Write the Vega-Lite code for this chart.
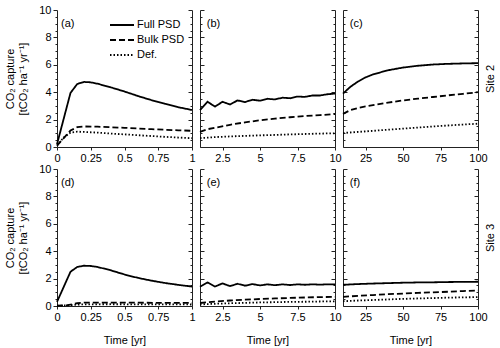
{
  "$schema": "https://vega.github.io/schema/vega-lite/v6.json",
  "padding": {"left": 4, "top": 4, "right": 2, "bottom": 2},
  "datasets": {
    "curves": [
      {"p":"a","s":"Full PSD","t":0,"v":0.2},{"p":"a","s":"Full PSD","t":0.1,"v":3.95},{"p":"a","s":"Full PSD","t":0.15,"v":4.6},{"p":"a","s":"Full PSD","t":0.2,"v":4.75},{"p":"a","s":"Full PSD","t":0.25,"v":4.72},{"p":"a","s":"Full PSD","t":0.3,"v":4.62},{"p":"a","s":"Full PSD","t":0.4,"v":4.35},{"p":"a","s":"Full PSD","t":0.5,"v":4.05},{"p":"a","s":"Full PSD","t":0.6,"v":3.72},{"p":"a","s":"Full PSD","t":0.7,"v":3.42},{"p":"a","s":"Full PSD","t":0.8,"v":3.15},{"p":"a","s":"Full PSD","t":0.9,"v":2.9},{"p":"a","s":"Full PSD","t":1,"v":2.7},
      {"p":"a","s":"Bulk PSD","t":0,"v":0.1},{"p":"a","s":"Bulk PSD","t":0.05,"v":0.65},{"p":"a","s":"Bulk PSD","t":0.1,"v":1.2},{"p":"a","s":"Bulk PSD","t":0.15,"v":1.45},{"p":"a","s":"Bulk PSD","t":0.2,"v":1.5},{"p":"a","s":"Bulk PSD","t":0.3,"v":1.48},{"p":"a","s":"Bulk PSD","t":0.4,"v":1.44},{"p":"a","s":"Bulk PSD","t":0.5,"v":1.4},{"p":"a","s":"Bulk PSD","t":0.6,"v":1.35},{"p":"a","s":"Bulk PSD","t":0.7,"v":1.3},{"p":"a","s":"Bulk PSD","t":0.8,"v":1.26},{"p":"a","s":"Bulk PSD","t":0.9,"v":1.22},{"p":"a","s":"Bulk PSD","t":1,"v":1.18},
      {"p":"a","s":"Def.","t":0,"v":0.1},{"p":"a","s":"Def.","t":0.05,"v":0.7},{"p":"a","s":"Def.","t":0.1,"v":1.05},{"p":"a","s":"Def.","t":0.15,"v":1.12},{"p":"a","s":"Def.","t":0.2,"v":1.1},{"p":"a","s":"Def.","t":0.3,"v":1.05},{"p":"a","s":"Def.","t":0.4,"v":0.98},{"p":"a","s":"Def.","t":0.5,"v":0.92},{"p":"a","s":"Def.","t":0.6,"v":0.86},{"p":"a","s":"Def.","t":0.7,"v":0.8},{"p":"a","s":"Def.","t":0.8,"v":0.74},{"p":"a","s":"Def.","t":0.9,"v":0.69},{"p":"a","s":"Def.","t":1,"v":0.64},

      {"p":"b","s":"Full PSD","t":1,"v":2.7},{"p":"b","s":"Full PSD","t":1.5,"v":3.3},{"p":"b","s":"Full PSD","t":2,"v":2.95},{"p":"b","s":"Full PSD","t":2.5,"v":3.3},{"p":"b","s":"Full PSD","t":3,"v":3.1},{"p":"b","s":"Full PSD","t":3.5,"v":3.4},{"p":"b","s":"Full PSD","t":4,"v":3.28},{"p":"b","s":"Full PSD","t":4.5,"v":3.45},{"p":"b","s":"Full PSD","t":5,"v":3.38},{"p":"b","s":"Full PSD","t":5.5,"v":3.52},{"p":"b","s":"Full PSD","t":6,"v":3.47},{"p":"b","s":"Full PSD","t":6.5,"v":3.6},{"p":"b","s":"Full PSD","t":7,"v":3.56},{"p":"b","s":"Full PSD","t":7.5,"v":3.68},{"p":"b","s":"Full PSD","t":8,"v":3.66},{"p":"b","s":"Full PSD","t":8.5,"v":3.76},{"p":"b","s":"Full PSD","t":9,"v":3.76},{"p":"b","s":"Full PSD","t":9.5,"v":3.85},{"p":"b","s":"Full PSD","t":10,"v":3.9},
      {"p":"b","s":"Bulk PSD","t":1,"v":1.1},{"p":"b","s":"Bulk PSD","t":1.5,"v":1.3},{"p":"b","s":"Bulk PSD","t":2,"v":1.4},{"p":"b","s":"Bulk PSD","t":3,"v":1.62},{"p":"b","s":"Bulk PSD","t":4,"v":1.8},{"p":"b","s":"Bulk PSD","t":5,"v":1.95},{"p":"b","s":"Bulk PSD","t":6,"v":2.07},{"p":"b","s":"Bulk PSD","t":7,"v":2.17},{"p":"b","s":"Bulk PSD","t":8,"v":2.26},{"p":"b","s":"Bulk PSD","t":9,"v":2.33},{"p":"b","s":"Bulk PSD","t":10,"v":2.4},
      {"p":"b","s":"Def.","t":1,"v":0.65},{"p":"b","s":"Def.","t":2,"v":0.72},{"p":"b","s":"Def.","t":3,"v":0.77},{"p":"b","s":"Def.","t":4,"v":0.81},{"p":"b","s":"Def.","t":5,"v":0.85},{"p":"b","s":"Def.","t":6,"v":0.88},{"p":"b","s":"Def.","t":7,"v":0.92},{"p":"b","s":"Def.","t":8,"v":0.95},{"p":"b","s":"Def.","t":9,"v":0.98},{"p":"b","s":"Def.","t":10,"v":1.0},

      {"p":"c","s":"Full PSD","t":10,"v":3.9},{"p":"c","s":"Full PSD","t":15,"v":4.4},{"p":"c","s":"Full PSD","t":20,"v":4.78},{"p":"c","s":"Full PSD","t":25,"v":5.08},{"p":"c","s":"Full PSD","t":30,"v":5.3},{"p":"c","s":"Full PSD","t":40,"v":5.6},{"p":"c","s":"Full PSD","t":50,"v":5.8},{"p":"c","s":"Full PSD","t":60,"v":5.93},{"p":"c","s":"Full PSD","t":70,"v":6.02},{"p":"c","s":"Full PSD","t":80,"v":6.07},{"p":"c","s":"Full PSD","t":90,"v":6.1},{"p":"c","s":"Full PSD","t":100,"v":6.12},
      {"p":"c","s":"Bulk PSD","t":10,"v":2.42},{"p":"c","s":"Bulk PSD","t":15,"v":2.7},{"p":"c","s":"Bulk PSD","t":20,"v":2.85},{"p":"c","s":"Bulk PSD","t":25,"v":2.97},{"p":"c","s":"Bulk PSD","t":30,"v":3.06},{"p":"c","s":"Bulk PSD","t":40,"v":3.24},{"p":"c","s":"Bulk PSD","t":50,"v":3.4},{"p":"c","s":"Bulk PSD","t":60,"v":3.53},{"p":"c","s":"Bulk PSD","t":70,"v":3.65},{"p":"c","s":"Bulk PSD","t":80,"v":3.77},{"p":"c","s":"Bulk PSD","t":90,"v":3.88},{"p":"c","s":"Bulk PSD","t":100,"v":4.0},
      {"p":"c","s":"Def.","t":10,"v":1.02},{"p":"c","s":"Def.","t":20,"v":1.1},{"p":"c","s":"Def.","t":30,"v":1.18},{"p":"c","s":"Def.","t":40,"v":1.26},{"p":"c","s":"Def.","t":50,"v":1.34},{"p":"c","s":"Def.","t":60,"v":1.42},{"p":"c","s":"Def.","t":70,"v":1.5},{"p":"c","s":"Def.","t":80,"v":1.57},{"p":"c","s":"Def.","t":90,"v":1.64},{"p":"c","s":"Def.","t":100,"v":1.7},

      {"p":"d","s":"Full PSD","t":0,"v":0.3},{"p":"d","s":"Full PSD","t":0.1,"v":2.5},{"p":"d","s":"Full PSD","t":0.15,"v":2.85},{"p":"d","s":"Full PSD","t":0.2,"v":2.94},{"p":"d","s":"Full PSD","t":0.25,"v":2.92},{"p":"d","s":"Full PSD","t":0.3,"v":2.85},{"p":"d","s":"Full PSD","t":0.4,"v":2.6},{"p":"d","s":"Full PSD","t":0.5,"v":2.3},{"p":"d","s":"Full PSD","t":0.6,"v":2.05},{"p":"d","s":"Full PSD","t":0.7,"v":1.85},{"p":"d","s":"Full PSD","t":0.8,"v":1.68},{"p":"d","s":"Full PSD","t":0.9,"v":1.54},{"p":"d","s":"Full PSD","t":1,"v":1.42},
      {"p":"d","s":"Bulk PSD","t":0,"v":0.02},{"p":"d","s":"Bulk PSD","t":0.07,"v":0.05},{"p":"d","s":"Bulk PSD","t":0.15,"v":0.2},{"p":"d","s":"Bulk PSD","t":0.2,"v":0.24},{"p":"d","s":"Bulk PSD","t":0.4,"v":0.25},{"p":"d","s":"Bulk PSD","t":0.6,"v":0.24},{"p":"d","s":"Bulk PSD","t":0.8,"v":0.23},{"p":"d","s":"Bulk PSD","t":1,"v":0.22},
      {"p":"d","s":"Def.","t":0,"v":0.02},{"p":"d","s":"Def.","t":0.07,"v":0.04},{"p":"d","s":"Def.","t":0.15,"v":0.1},{"p":"d","s":"Def.","t":0.2,"v":0.12},{"p":"d","s":"Def.","t":0.4,"v":0.13},{"p":"d","s":"Def.","t":0.6,"v":0.12},{"p":"d","s":"Def.","t":0.8,"v":0.12},{"p":"d","s":"Def.","t":1,"v":0.11},

      {"p":"e","s":"Full PSD","t":1,"v":1.4},{"p":"e","s":"Full PSD","t":1.5,"v":1.72},{"p":"e","s":"Full PSD","t":2,"v":1.42},{"p":"e","s":"Full PSD","t":2.5,"v":1.65},{"p":"e","s":"Full PSD","t":3,"v":1.45},{"p":"e","s":"Full PSD","t":3.5,"v":1.62},{"p":"e","s":"Full PSD","t":4,"v":1.48},{"p":"e","s":"Full PSD","t":4.5,"v":1.6},{"p":"e","s":"Full PSD","t":5,"v":1.5},{"p":"e","s":"Full PSD","t":5.5,"v":1.58},{"p":"e","s":"Full PSD","t":6,"v":1.52},{"p":"e","s":"Full PSD","t":6.5,"v":1.58},{"p":"e","s":"Full PSD","t":7,"v":1.53},{"p":"e","s":"Full PSD","t":7.5,"v":1.58},{"p":"e","s":"Full PSD","t":8,"v":1.55},{"p":"e","s":"Full PSD","t":8.5,"v":1.58},{"p":"e","s":"Full PSD","t":9,"v":1.56},{"p":"e","s":"Full PSD","t":9.5,"v":1.58},{"p":"e","s":"Full PSD","t":10,"v":1.57},
      {"p":"e","s":"Bulk PSD","t":1,"v":0.22},{"p":"e","s":"Bulk PSD","t":2,"v":0.32},{"p":"e","s":"Bulk PSD","t":3,"v":0.4},{"p":"e","s":"Bulk PSD","t":4,"v":0.46},{"p":"e","s":"Bulk PSD","t":5,"v":0.51},{"p":"e","s":"Bulk PSD","t":6,"v":0.55},{"p":"e","s":"Bulk PSD","t":7,"v":0.59},{"p":"e","s":"Bulk PSD","t":8,"v":0.62},{"p":"e","s":"Bulk PSD","t":9,"v":0.65},{"p":"e","s":"Bulk PSD","t":10,"v":0.67},
      {"p":"e","s":"Def.","t":1,"v":0.12},{"p":"e","s":"Def.","t":2,"v":0.16},{"p":"e","s":"Def.","t":3,"v":0.2},{"p":"e","s":"Def.","t":4,"v":0.23},{"p":"e","s":"Def.","t":5,"v":0.26},{"p":"e","s":"Def.","t":6,"v":0.28},{"p":"e","s":"Def.","t":7,"v":0.3},{"p":"e","s":"Def.","t":8,"v":0.31},{"p":"e","s":"Def.","t":9,"v":0.33},{"p":"e","s":"Def.","t":10,"v":0.34},

      {"p":"f","s":"Full PSD","t":10,"v":1.55},{"p":"f","s":"Full PSD","t":20,"v":1.6},{"p":"f","s":"Full PSD","t":30,"v":1.64},{"p":"f","s":"Full PSD","t":40,"v":1.67},{"p":"f","s":"Full PSD","t":50,"v":1.7},{"p":"f","s":"Full PSD","t":60,"v":1.72},{"p":"f","s":"Full PSD","t":70,"v":1.73},{"p":"f","s":"Full PSD","t":80,"v":1.75},{"p":"f","s":"Full PSD","t":90,"v":1.76},{"p":"f","s":"Full PSD","t":100,"v":1.77},
      {"p":"f","s":"Bulk PSD","t":10,"v":0.67},{"p":"f","s":"Bulk PSD","t":20,"v":0.74},{"p":"f","s":"Bulk PSD","t":30,"v":0.8},{"p":"f","s":"Bulk PSD","t":40,"v":0.86},{"p":"f","s":"Bulk PSD","t":50,"v":0.91},{"p":"f","s":"Bulk PSD","t":60,"v":0.96},{"p":"f","s":"Bulk PSD","t":70,"v":1.0},{"p":"f","s":"Bulk PSD","t":80,"v":1.04},{"p":"f","s":"Bulk PSD","t":90,"v":1.09},{"p":"f","s":"Bulk PSD","t":100,"v":1.13},
      {"p":"f","s":"Def.","t":10,"v":0.35},{"p":"f","s":"Def.","t":20,"v":0.4},{"p":"f","s":"Def.","t":30,"v":0.44},{"p":"f","s":"Def.","t":40,"v":0.48},{"p":"f","s":"Def.","t":50,"v":0.52},{"p":"f","s":"Def.","t":60,"v":0.55},{"p":"f","s":"Def.","t":70,"v":0.58},{"p":"f","s":"Def.","t":80,"v":0.61},{"p":"f","s":"Def.","t":90,"v":0.63},{"p":"f","s":"Def.","t":100,"v":0.65}
    ]
  },
  "config": {
    "view": {"stroke": null},
    "font": "Liberation Sans",
    "axis": {"grid": false, "domainColor": "#222", "tickColor": "#222", "labelColor": "black", "titleColor": "black", "labelFont": "Liberation Sans", "titleFont": "Liberation Sans", "labelFontSize": 11, "titleFontSize": 11, "titleFontWeight": "normal", "labelFlush": false, "labelOverlap": false, "labelBound": false},
    "axisX": {"titleFontWeight": "normal", "labelOverlap": false},
    "legend": {"labelFont": "Liberation Sans", "labelFontSize": 11, "labelColor": "black"}
  },
  "resolve": {"scale": {"strokeDash": "independent"}},
  "spacing": 0,
  "vconcat": [
    {
      "hconcat": [
        {
          "width": 135, "height": 137,
          "layer": [
            {"data": {"name": "curves"}, "transform": [{"filter": "datum.p === 'a'"}],
             "mark": {"type": "line", "color": "black", "strokeWidth": 1.8},
             "encoding": {
               "x": {"field": "t", "type": "quantitative", "scale": {"domain": [0, 1], "nice": false}, "axis": {"values": [0, 0.25, 0.5, 0.75, 1], "tickCount": 5, "labelExpr": "'' + datum.value", "labelOverlap": false, "title": null, "tickSize": 3}},
               "y": {"field": "v", "type": "quantitative", "scale": {"domain": [0, 10], "nice": false}, "axis": {"values": [0,0.5,1,1.5,2,2.5,3,3.5,4,4.5,5,5.5,6,6.5,7,7.5,8,8.5,9,9.5,10], "tickCount": 21, "labelExpr": "datum.value % 2 === 0 ? '' + datum.value : ''", "tickSize": {"condition": {"test": "datum.value % 2 === 0", "value": 4}, "value": 2}, "labelPadding": 2, "title": ["CO₂ capture", "[tCO₂ ha⁻¹ yr⁻¹]"], "titlePadding": 10}},
               "strokeDash": {"field": "s", "type": "nominal", "scale": {"domain": ["Full PSD", "Bulk PSD", "Def."], "range": [[1, 0], [6, 3], [1.5, 2]]},
                 "legend": {"title": null, "orient": "none", "legendX": 58, "legendY": 8, "padding": 0, "symbolType": "M-2,0H2", "symbolSize": 144, "symbolStrokeWidth": 1.8, "symbolStrokeColor": "black", "symbolFillColor": "transparent", "labelOffset": 8, "rowPadding": 3}}
             }},
            {"data": {"values": [{"t": 0.03, "v": 9.0, "label": "(a)"}]},
             "mark": {"type": "text", "align": "left", "baseline": "middle", "fontSize": 11},
             "encoding": {"x": {"field": "t", "type": "quantitative"}, "y": {"field": "v", "type": "quantitative", "axis": {"orient": "right", "values": [0,0.5,1,1.5,2,2.5,3,3.5,4,4.5,5,5.5,6,6.5,7,7.5,8,8.5,9,9.5,10], "tickCount": 21, "labels": false, "title": null, "tickSize": {"condition": {"test": "datum.value % 2 === 0", "value": -4}, "value": -2}}}, "text": {"field": "label"}}}
          ],
          "resolve": {"axis": {"y": "independent"}}
        },
        {
          "width": 135, "height": 137,
          "layer": [
            {"data": {"name": "curves"}, "transform": [{"filter": "datum.p === 'b'"}],
             "mark": {"type": "line", "color": "black", "strokeWidth": 1.8},
             "encoding": {
               "x": {"field": "t", "type": "quantitative", "scale": {"domain": [1, 10], "nice": false, "zero": false}, "axis": {"values": [2.5, 5, 7.5, 10], "tickCount": 5, "labelExpr": "'' + datum.value", "labelOverlap": false, "title": null, "tickSize": 3}},
               "y": {"field": "v", "type": "quantitative", "scale": {"domain": [0, 10], "nice": false}, "axis": {"values": [0,0.5,1,1.5,2,2.5,3,3.5,4,4.5,5,5.5,6,6.5,7,7.5,8,8.5,9,9.5,10], "tickCount": 21, "labels": false, "title": null, "tickSize": {"condition": {"test": "datum.value % 2 === 0", "value": -4}, "value": -2}}},
               "strokeDash": {"field": "s", "type": "nominal", "scale": {"domain": ["Full PSD", "Bulk PSD", "Def."], "range": [[1, 0], [6, 3], [1.5, 2]]}, "legend": null}
             }},
            {"data": {"values": [{"t": 1.45, "v": 9.0, "label": "(b)"}]},
             "mark": {"type": "text", "align": "left", "baseline": "middle", "fontSize": 11},
             "encoding": {"x": {"field": "t", "type": "quantitative"}, "y": {"field": "v", "type": "quantitative", "axis": {"orient": "right", "values": [0,0.5,1,1.5,2,2.5,3,3.5,4,4.5,5,5.5,6,6.5,7,7.5,8,8.5,9,9.5,10], "tickCount": 21, "labels": false, "title": null, "tickSize": {"condition": {"test": "datum.value % 2 === 0", "value": -4}, "value": -2}}}, "text": {"field": "label"}}}
          ],
          "resolve": {"axis": {"y": "independent"}}
        },
        {
          "width": 135, "height": 137,
          "layer": [
            {"data": {"name": "curves"}, "transform": [{"filter": "datum.p === 'c'"}],
             "mark": {"type": "line", "color": "black", "strokeWidth": 1.8},
             "encoding": {
               "x": {"field": "t", "type": "quantitative", "scale": {"domain": [10, 100], "nice": false, "zero": false}, "axis": {"values": [25, 50, 75, 100], "tickCount": 5, "labelExpr": "'' + datum.value", "labelOverlap": false, "title": null, "tickSize": 3}},
               "y": {"field": "v", "type": "quantitative", "scale": {"domain": [0, 10], "nice": false}, "axis": {"values": [0,0.5,1,1.5,2,2.5,3,3.5,4,4.5,5,5.5,6,6.5,7,7.5,8,8.5,9,9.5,10], "tickCount": 21, "labels": false, "title": null, "tickSize": {"condition": {"test": "datum.value % 2 === 0", "value": -4}, "value": -2}}},
               "strokeDash": {"field": "s", "type": "nominal", "scale": {"domain": ["Full PSD", "Bulk PSD", "Def."], "range": [[1, 0], [6, 3], [1.5, 2]]}, "legend": null}
             }},
            {"data": {"values": [{"t": 14.5, "v": 9.0, "label": "(c)"}]},
             "mark": {"type": "text", "align": "left", "baseline": "middle", "fontSize": 11},
             "encoding": {"x": {"field": "t", "type": "quantitative"}, "y": {"field": "v", "type": "quantitative", "axis": {"orient": "right", "values": [0,0.5,1,1.5,2,2.5,3,3.5,4,4.5,5,5.5,6,6.5,7,7.5,8,8.5,9,9.5,10], "tickCount": 21, "labels": false, "title": "Site 2", "titleAngle": 270, "titlePadding": 17, "tickSize": {"condition": {"test": "datum.value % 2 === 0", "value": -4}, "value": -2}}}, "text": {"field": "label"}}}
          ],
          "resolve": {"axis": {"y": "independent"}}
        }
      ],
      "spacing": 8,
      "bounds": "flush",
      "resolve": {"scale": {"strokeDash": "independent"}}
    },
    {
      "hconcat": [
        {
          "width": 135, "height": 137,
          "layer": [
            {"data": {"name": "curves"}, "transform": [{"filter": "datum.p === 'd'"}],
             "mark": {"type": "line", "color": "black", "strokeWidth": 1.8},
             "encoding": {
               "x": {"field": "t", "type": "quantitative", "scale": {"domain": [0, 1], "nice": false}, "axis": {"values": [0, 0.25, 0.5, 0.75, 1], "tickCount": 5, "labelExpr": "'' + datum.value", "labelOverlap": false, "title": "Time [yr]", "titleFontWeight": "normal", "titlePadding": 12, "tickSize": 3}},
               "y": {"field": "v", "type": "quantitative", "scale": {"domain": [0, 10], "nice": false}, "axis": {"values": [0,0.5,1,1.5,2,2.5,3,3.5,4,4.5,5,5.5,6,6.5,7,7.5,8,8.5,9,9.5,10], "tickCount": 21, "labelExpr": "datum.value % 2 === 0 ? '' + datum.value : ''", "tickSize": {"condition": {"test": "datum.value % 2 === 0", "value": 4}, "value": 2}, "labelPadding": 2, "title": ["CO₂ capture", "[tCO₂ ha⁻¹ yr⁻¹]"], "titlePadding": 10}},
               "strokeDash": {"field": "s", "type": "nominal", "scale": {"domain": ["Full PSD", "Bulk PSD", "Def."], "range": [[1, 0], [6, 3], [1.5, 2]]}, "legend": null}
             }},
            {"data": {"values": [{"t": 0.03, "v": 9.0, "label": "(d)"}]},
             "mark": {"type": "text", "align": "left", "baseline": "middle", "fontSize": 11},
             "encoding": {"x": {"field": "t", "type": "quantitative"}, "y": {"field": "v", "type": "quantitative", "axis": {"orient": "right", "values": [0,0.5,1,1.5,2,2.5,3,3.5,4,4.5,5,5.5,6,6.5,7,7.5,8,8.5,9,9.5,10], "tickCount": 21, "labels": false, "title": null, "tickSize": {"condition": {"test": "datum.value % 2 === 0", "value": -4}, "value": -2}}}, "text": {"field": "label"}}}
          ],
          "resolve": {"axis": {"y": "independent"}}
        },
        {
          "width": 135, "height": 137,
          "layer": [
            {"data": {"name": "curves"}, "transform": [{"filter": "datum.p === 'e'"}],
             "mark": {"type": "line", "color": "black", "strokeWidth": 1.8},
             "encoding": {
               "x": {"field": "t", "type": "quantitative", "scale": {"domain": [1, 10], "nice": false, "zero": false}, "axis": {"values": [2.5, 5, 7.5, 10], "tickCount": 5, "labelExpr": "'' + datum.value", "labelOverlap": false, "title": "Time [yr]", "titleFontWeight": "normal", "titlePadding": 12, "tickSize": 3}},
               "y": {"field": "v", "type": "quantitative", "scale": {"domain": [0, 10], "nice": false}, "axis": {"values": [0,0.5,1,1.5,2,2.5,3,3.5,4,4.5,5,5.5,6,6.5,7,7.5,8,8.5,9,9.5,10], "tickCount": 21, "labels": false, "title": null, "tickSize": {"condition": {"test": "datum.value % 2 === 0", "value": -4}, "value": -2}}},
               "strokeDash": {"field": "s", "type": "nominal", "scale": {"domain": ["Full PSD", "Bulk PSD", "Def."], "range": [[1, 0], [6, 3], [1.5, 2]]}, "legend": null}
             }},
            {"data": {"values": [{"t": 1.45, "v": 9.0, "label": "(e)"}]},
             "mark": {"type": "text", "align": "left", "baseline": "middle", "fontSize": 11},
             "encoding": {"x": {"field": "t", "type": "quantitative"}, "y": {"field": "v", "type": "quantitative", "axis": {"orient": "right", "values": [0,0.5,1,1.5,2,2.5,3,3.5,4,4.5,5,5.5,6,6.5,7,7.5,8,8.5,9,9.5,10], "tickCount": 21, "labels": false, "title": null, "tickSize": {"condition": {"test": "datum.value % 2 === 0", "value": -4}, "value": -2}}}, "text": {"field": "label"}}}
          ],
          "resolve": {"axis": {"y": "independent"}}
        },
        {
          "width": 135, "height": 137,
          "layer": [
            {"data": {"name": "curves"}, "transform": [{"filter": "datum.p === 'f'"}],
             "mark": {"type": "line", "color": "black", "strokeWidth": 1.8},
             "encoding": {
               "x": {"field": "t", "type": "quantitative", "scale": {"domain": [10, 100], "nice": false, "zero": false}, "axis": {"values": [25, 50, 75, 100], "tickCount": 5, "labelExpr": "'' + datum.value", "labelOverlap": false, "title": "Time [yr]", "titleFontWeight": "normal", "titlePadding": 12, "tickSize": 3}},
               "y": {"field": "v", "type": "quantitative", "scale": {"domain": [0, 10], "nice": false}, "axis": {"values": [0,0.5,1,1.5,2,2.5,3,3.5,4,4.5,5,5.5,6,6.5,7,7.5,8,8.5,9,9.5,10], "tickCount": 21, "labels": false, "title": null, "tickSize": {"condition": {"test": "datum.value % 2 === 0", "value": -4}, "value": -2}}},
               "strokeDash": {"field": "s", "type": "nominal", "scale": {"domain": ["Full PSD", "Bulk PSD", "Def."], "range": [[1, 0], [6, 3], [1.5, 2]]}, "legend": null}
             }},
            {"data": {"values": [{"t": 14.5, "v": 9.0, "label": "(f)"}]},
             "mark": {"type": "text", "align": "left", "baseline": "middle", "fontSize": 11},
             "encoding": {"x": {"field": "t", "type": "quantitative"}, "y": {"field": "v", "type": "quantitative", "axis": {"orient": "right", "values": [0,0.5,1,1.5,2,2.5,3,3.5,4,4.5,5,5.5,6,6.5,7,7.5,8,8.5,9,9.5,10], "tickCount": 21, "labels": false, "title": "Site 3", "titleAngle": 270, "titlePadding": 17, "tickSize": {"condition": {"test": "datum.value % 2 === 0", "value": -4}, "value": -2}}}, "text": {"field": "label"}}}
          ],
          "resolve": {"axis": {"y": "independent"}}
        }
      ],
      "spacing": 8,
      "bounds": "flush",
      "resolve": {"scale": {"strokeDash": "independent"}}
    }
  ]
}
